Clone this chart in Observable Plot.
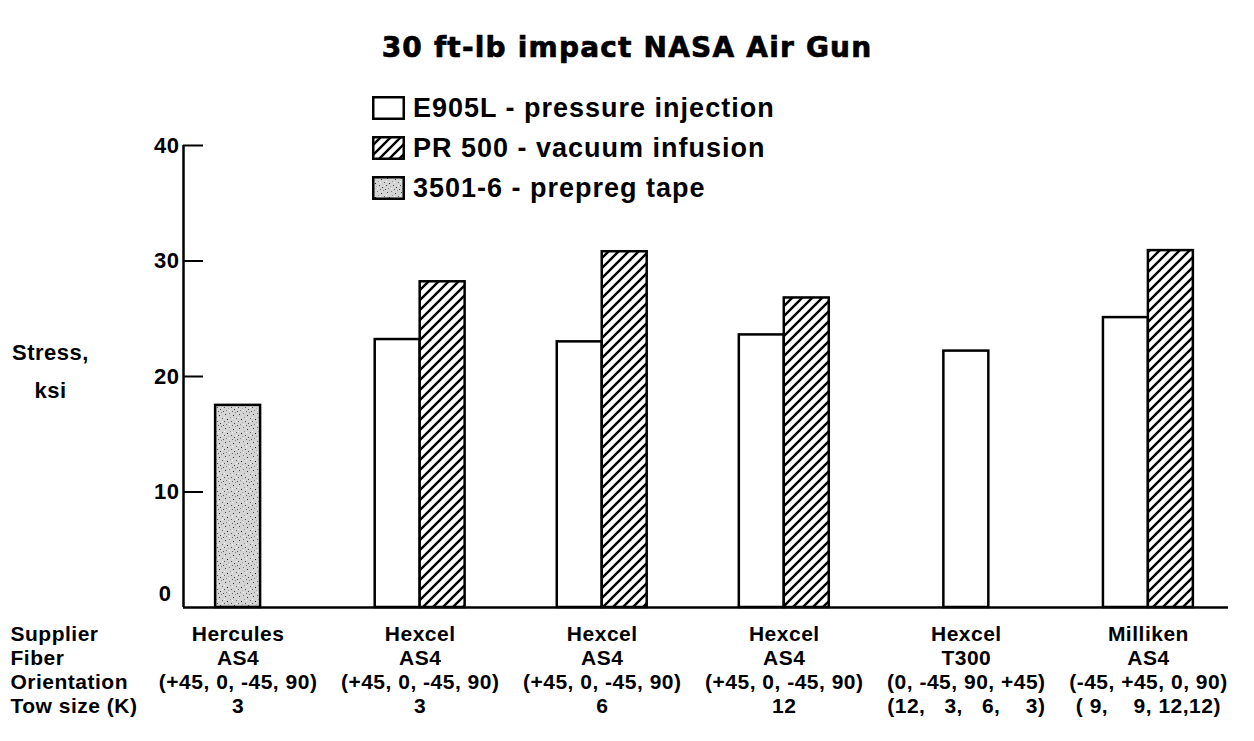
<!DOCTYPE html>
<html><head><meta charset="utf-8">
<script src="https://cdn.jsdelivr.net/npm/d3@7"></script>
<script src="https://cdn.jsdelivr.net/npm/@observablehq/plot@0.6"></script>
<style>
body{margin:0;background:#fff;}
#wrap{position:relative;width:1254px;height:741px;overflow:hidden;font-family:"Liberation Sans",Arial,sans-serif;}
#title{position:absolute;top:31px;left:0;width:1254px;text-align:center;font:bold 28px "DejaVu Sans",sans-serif;letter-spacing:1.2px;color:#000;-webkit-text-stroke:0.7px #000;z-index:2;}
#chart{position:absolute;left:0;top:90px;z-index:1;}
#chart svg text{white-space:pre;letter-spacing:0.5px;}
#legend{position:absolute;left:372px;top:88px;z-index:3;}
.item{display:flex;align-items:center;height:40px;font:bold 27px "Liberation Sans",Arial,sans-serif;letter-spacing:1px;color:#000;}
.item svg{margin-right:8px;}
</style></head>
<body>
<svg width="0" height="0" style="position:absolute">
  <defs>
    <pattern id="hatch" patternUnits="userSpaceOnUse" width="10" height="10">
      <rect width="10" height="10" fill="white"/>
      <path d="M-1,1 l2,-2 M0,10 l10,-10 M9,11 l2,-2" stroke="black" stroke-width="2.4"/>
    </pattern>
    <pattern id="stipple" patternUnits="userSpaceOnUse" width="14" height="14">
      <rect width="14" height="14" fill="#d4d4d4"/>
      <rect x="1" y="2" width="1" height="1" fill="#444"/>
      <rect x="5" y="1" width="1" height="1" fill="#777"/>
      <rect x="9" y="3" width="1" height="1" fill="#333"/>
      <rect x="12" y="6" width="1" height="1" fill="#666"/>
      <rect x="3" y="7" width="1" height="1" fill="#222"/>
      <rect x="7" y="9" width="1" height="1" fill="#555"/>
      <rect x="10" y="11" width="1" height="1" fill="#444"/>
      <rect x="2" y="12" width="1" height="1" fill="#888"/>
      <rect x="6" y="5" width="1" height="1" fill="#999"/>
      <rect x="13" y="13" width="1" height="1" fill="#555"/>
      <rect x="4" y="10" width="1" height="1" fill="#aaa"/>
      <rect x="11" y="0" width="1" height="1" fill="#888"/>
      <rect x="0" y="5" width="1" height="1" fill="#fff"/>
      <rect x="8" y="6" width="1" height="1" fill="#fff"/>
      <rect x="12" y="9" width="1" height="1" fill="#fff"/>
      <rect x="5" y="12" width="1" height="1" fill="#fff"/>
      <rect x="8" y="13" width="1" height="1" fill="#666"/>
      <rect x="0" y="9" width="1" height="1" fill="#555"/>
    </pattern>
  </defs>
</svg>
<div id="wrap">
  <div id="title">30 ft-lb impact NASA Air Gun</div>
  <div id="chart"></div>
  <div id="legend"></div>
</div>
<script>
// ---- data ----
const suppliers = ["Hercules", "Hexcel", "Hexcel", "Hexcel", "Hexcel", "Milliken"];
const fibers = ["AS4", "AS4", "AS4", "AS4", "T300", "AS4"];
const orientations = ["(+45, 0, -45, 90)", "(+45, 0, -45, 90)", "(+45, 0, -45, 90)", "(+45, 0, -45, 90)", "(0, -45, 90, +45)", "(-45, +45, 0, 90)"];
const towSizes = ["3", "3", "6", "12", "(12,   3,   6,    3)", "( 9,    9, 12,12)"];
const rowLabels = ["Supplier", "Fiber", "Orientation", "Tow size (K)"];
const seriesNames = ["E905L - pressure injection", "PR 500 - vacuum infusion", "3501-6 - prepreg tape"];
const e905L = [null, 23.2, 23.0, 23.6, 22.2, 25.1];
const pr500 = [null, 28.2, 30.8, 26.8, null, 30.9];
const prepreg3501 = [17.5, null, null, null, null, null];
const yTicks = [0, 10, 20, 30, 40];
const yLabel = "Stress,\nksi";

// ---- build bar table ----
const fills = ["white", "url(#hatch)", "url(#stipple)"];
const seriesValues = [e905L, pr500, prepreg3501];
const bw = 0.247;
const bars = [];
suppliers.forEach((s, i) => {
  const present = seriesValues.map((vals, k) => ({k, v: vals[i]})).filter(d => d.v != null);
  const n = present.length;
  present.forEach((d, j) => {
    const c = i + (j - (n - 1) / 2) * bw;
    bars.push({series: d.k, x1: c - bw / 2, x2: c + bw / 2, value: d.v});
  });
});
const groupIdx = suppliers.map((_, i) => i);
const xDomain = [-0.3, 5.44];

const font = '"Liberation Sans", Arial, sans-serif';
const plot = Plot.plot({
  width: 1254,
  height: 651,
  marginLeft: 183,
  marginRight: 26,
  marginTop: 55,
  marginBottom: 134,
  x: {domain: xDomain, axis: null},
  y: {domain: [0, 40], axis: null},
  style: {fontFamily: font, fontWeight: "bold", color: "black", background: "transparent", overflow: "visible"},
  marks: [
    ...[0, 1, 2].map(k => Plot.rect(bars.filter(b => b.series === k), {
      x1: "x1", x2: "x2", y1: 0, y2: "value", fill: fills[k], stroke: "black", strokeWidth: 2.5
    })),
    Plot.ruleY([0], {stroke: "black", strokeWidth: 2.5}),
    Plot.ruleX([xDomain[0]], {stroke: "black", strokeWidth: 2.5}),
    Plot.axisY(yTicks.slice(1), {tickSize: -20, tickFormat: () => "", strokeWidth: 2, label: null}),
    Plot.axisY(yTicks.slice(1), {tickSize: 0, tickPadding: 4, fontSize: 22, fontWeight: "bold", label: null}),
    Plot.axisY(yTicks.slice(0, 1), {tickSize: 0, tickPadding: 12, dy: -14, fontSize: 22, fontWeight: "bold", label: null}),
    Plot.text([yLabel], {frameAnchor: "left", dx: -133, dy: -10, fontSize: 22, fontWeight: "bold", lineHeight: 1.72, textAnchor: "middle"}),
    Plot.text(groupIdx, {
      x: i => i,
      text: i => [suppliers[i], fibers[i], orientations[i], towSizes[i]].join("\n"),
      frameAnchor: "bottom", lineAnchor: "top", dy: 17, lineHeight: 1.13,
      fontSize: 21, fontWeight: "bold", textAnchor: "middle"
    }),
    Plot.text([rowLabels.join("\n")], {
      frameAnchor: "bottom-left", dx: -173, dy: 17, lineAnchor: "top", lineHeight: 1.13,
      fontSize: 21, fontWeight: "bold", textAnchor: "start"
    })
  ]
});
document.getElementById("chart").appendChild(plot);

// ---- legend ----
const legend = document.getElementById("legend");
seriesNames.forEach((name, k) => {
  const item = document.createElement("div");
  item.className = "item";
  item.innerHTML = `<svg width="33" height="24"><rect x="1.25" y="1.25" width="30.5" height="21.5" fill="${fills[k]}" stroke="black" stroke-width="2.5"/></svg><span>${name}</span>`;
  legend.appendChild(item);
});
</script>
</body></html>
